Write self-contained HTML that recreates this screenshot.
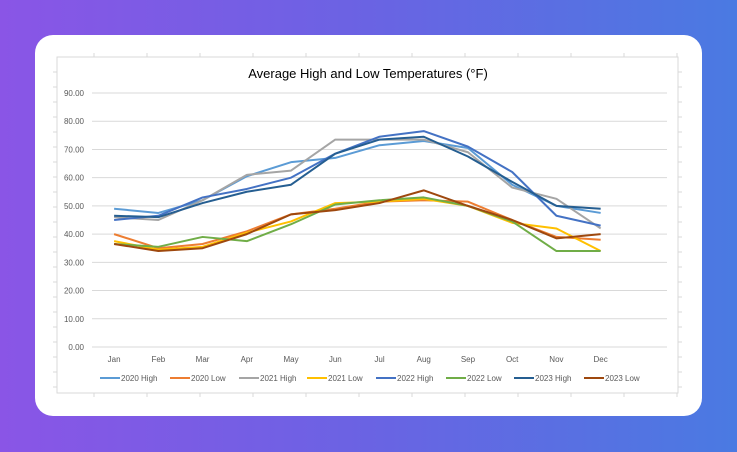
<!DOCTYPE html>
<html><head><meta charset="utf-8"><style>
html,body{margin:0;padding:0;width:737px;height:452px;overflow:hidden;}
body{background:linear-gradient(90deg,#8a55e6 0%,#6a63e3 50%,#4a7ae2 100%);font-family:"Liberation Sans",sans-serif;}
#card{position:absolute;left:35px;top:35px;width:667px;height:381px;background:#fff;border-radius:18px;}
svg{position:absolute;left:0;top:0;}
</style></head><body>
<div id="card"></div>
<svg id="chart" width="737" height="452"></svg>
<script>
const months=["Jan","Feb","Mar","Apr","May","Jun","Jul","Aug","Sep","Oct","Nov","Dec"];
const yTicks=[0,10,20,30,40,50,60,70,80,90];
const seriesNames=["2020 High","2020 Low","2021 High","2021 Low","2022 High","2022 Low","2023 High","2023 Low"];
const seriesColors=["#5B9BD5","#ED7D31","#A5A5A5","#FFC000","#4472C4","#70AD47","#255E91","#9E480E"];
const high2020=[49,47.5,52,60.5,65.5,67,71.5,73,70.5,57.5,50,47.5];
const low2020=[40,35,36.5,41,47,49,51.5,52,51.5,45,39,38];
const high2021=[46,45,52,61,62.5,73.5,73.5,73.5,69,56.5,52.5,42];
const low2021=[37.5,34.5,35.5,40.5,44.5,51,51.5,52.5,50,44,42,34];
const high2022=[45,46.5,53,56,60,68.5,74.5,76.5,71,62,46.5,43];
const low2022=[36.5,35.5,39,37.5,43.5,50.5,52,53,50,44.5,34,34];
const high2023=[46.5,46,51,55,57.5,68.5,73.5,74.5,67.5,58.5,50,49];
const low2023=[36.5,34,35,40,47,48.5,51,55.5,50,45,38.5,40];
const seriesData=[high2020,low2020,high2021,low2021,high2022,low2022,high2023,low2023];

const svg=document.getElementById('chart');
const NS='http://www.w3.org/2000/svg';
const X0=92,X1=667,Y0=347,YT=93,slots=13;
const step=(X1-X0)/slots;
const xs=i=>X0+step*(i+0.5);
const ys=v=>Y0-(v/90)*(Y0-YT);
function mk(t,a){const e=document.createElementNS(NS,t);for(const k in a)e.setAttribute(k,a[k]);svg.appendChild(e);return e;}

let e=mk('rect',{x:57,y:57,width:621,height:336,fill:'none',stroke:'#d9d9d9','stroke-width':1});


for(let x=94;x<678;x+=53){mk('line',{x1:x,y1:53,x2:x,y2:57,stroke:'#d9d9d9'});mk('line',{x1:x,y1:393,x2:x,y2:397,stroke:'#d9d9d9'});}
for(let y=72;y<393;y+=15){mk('line',{x1:53,y1:y,x2:57,y2:y,stroke:'#d9d9d9'});mk('line',{x1:678,y1:y,x2:682,y2:y,stroke:'#d9d9d9'});}

e=mk('text',{x:368,y:78,'text-anchor':'middle','font-size':13,fill:'#000'});
e.textContent='Average High and Low Temperatures (°F)';



yTicks.forEach(v=>{
  const g=mk('line',{x1:X0,y1:ys(v),x2:X1,y2:ys(v),stroke:'#d9d9d9','stroke-width':1});
  
  
  const t=mk('text',{x:84,y:ys(v)+3,'text-anchor':'end','font-size':8,fill:'#595959'});
  t.textContent=v.toFixed(2);
  
  
});
months.forEach((m,i)=>{
  const t=mk('text',{x:xs(i),y:362,'text-anchor':'middle','font-size':8,fill:'#595959'});
  t.textContent=m;
  
  
});
seriesData.forEach((d,s)=>{
  const p=mk('polyline',{points:d.map((v,i)=>xs(i)+','+ys(v)).join(' '),fill:'none',stroke:seriesColors[s],'stroke-width':2,'stroke-linejoin':'round'});
  
  
});
const legX=[100,170,239,307,376,446,514,584];
seriesNames.forEach((n,s)=>{
  const lx=legX[s];
  const l=mk('line',{x1:lx,y1:378,x2:lx+20,y2:378,stroke:seriesColors[s],'stroke-width':2});
  
  
  const t=mk('text',{x:lx+21,y:381,'font-size':8,fill:'#595959'});
  t.textContent=n;
  
  
});
</script>
</body></html>
